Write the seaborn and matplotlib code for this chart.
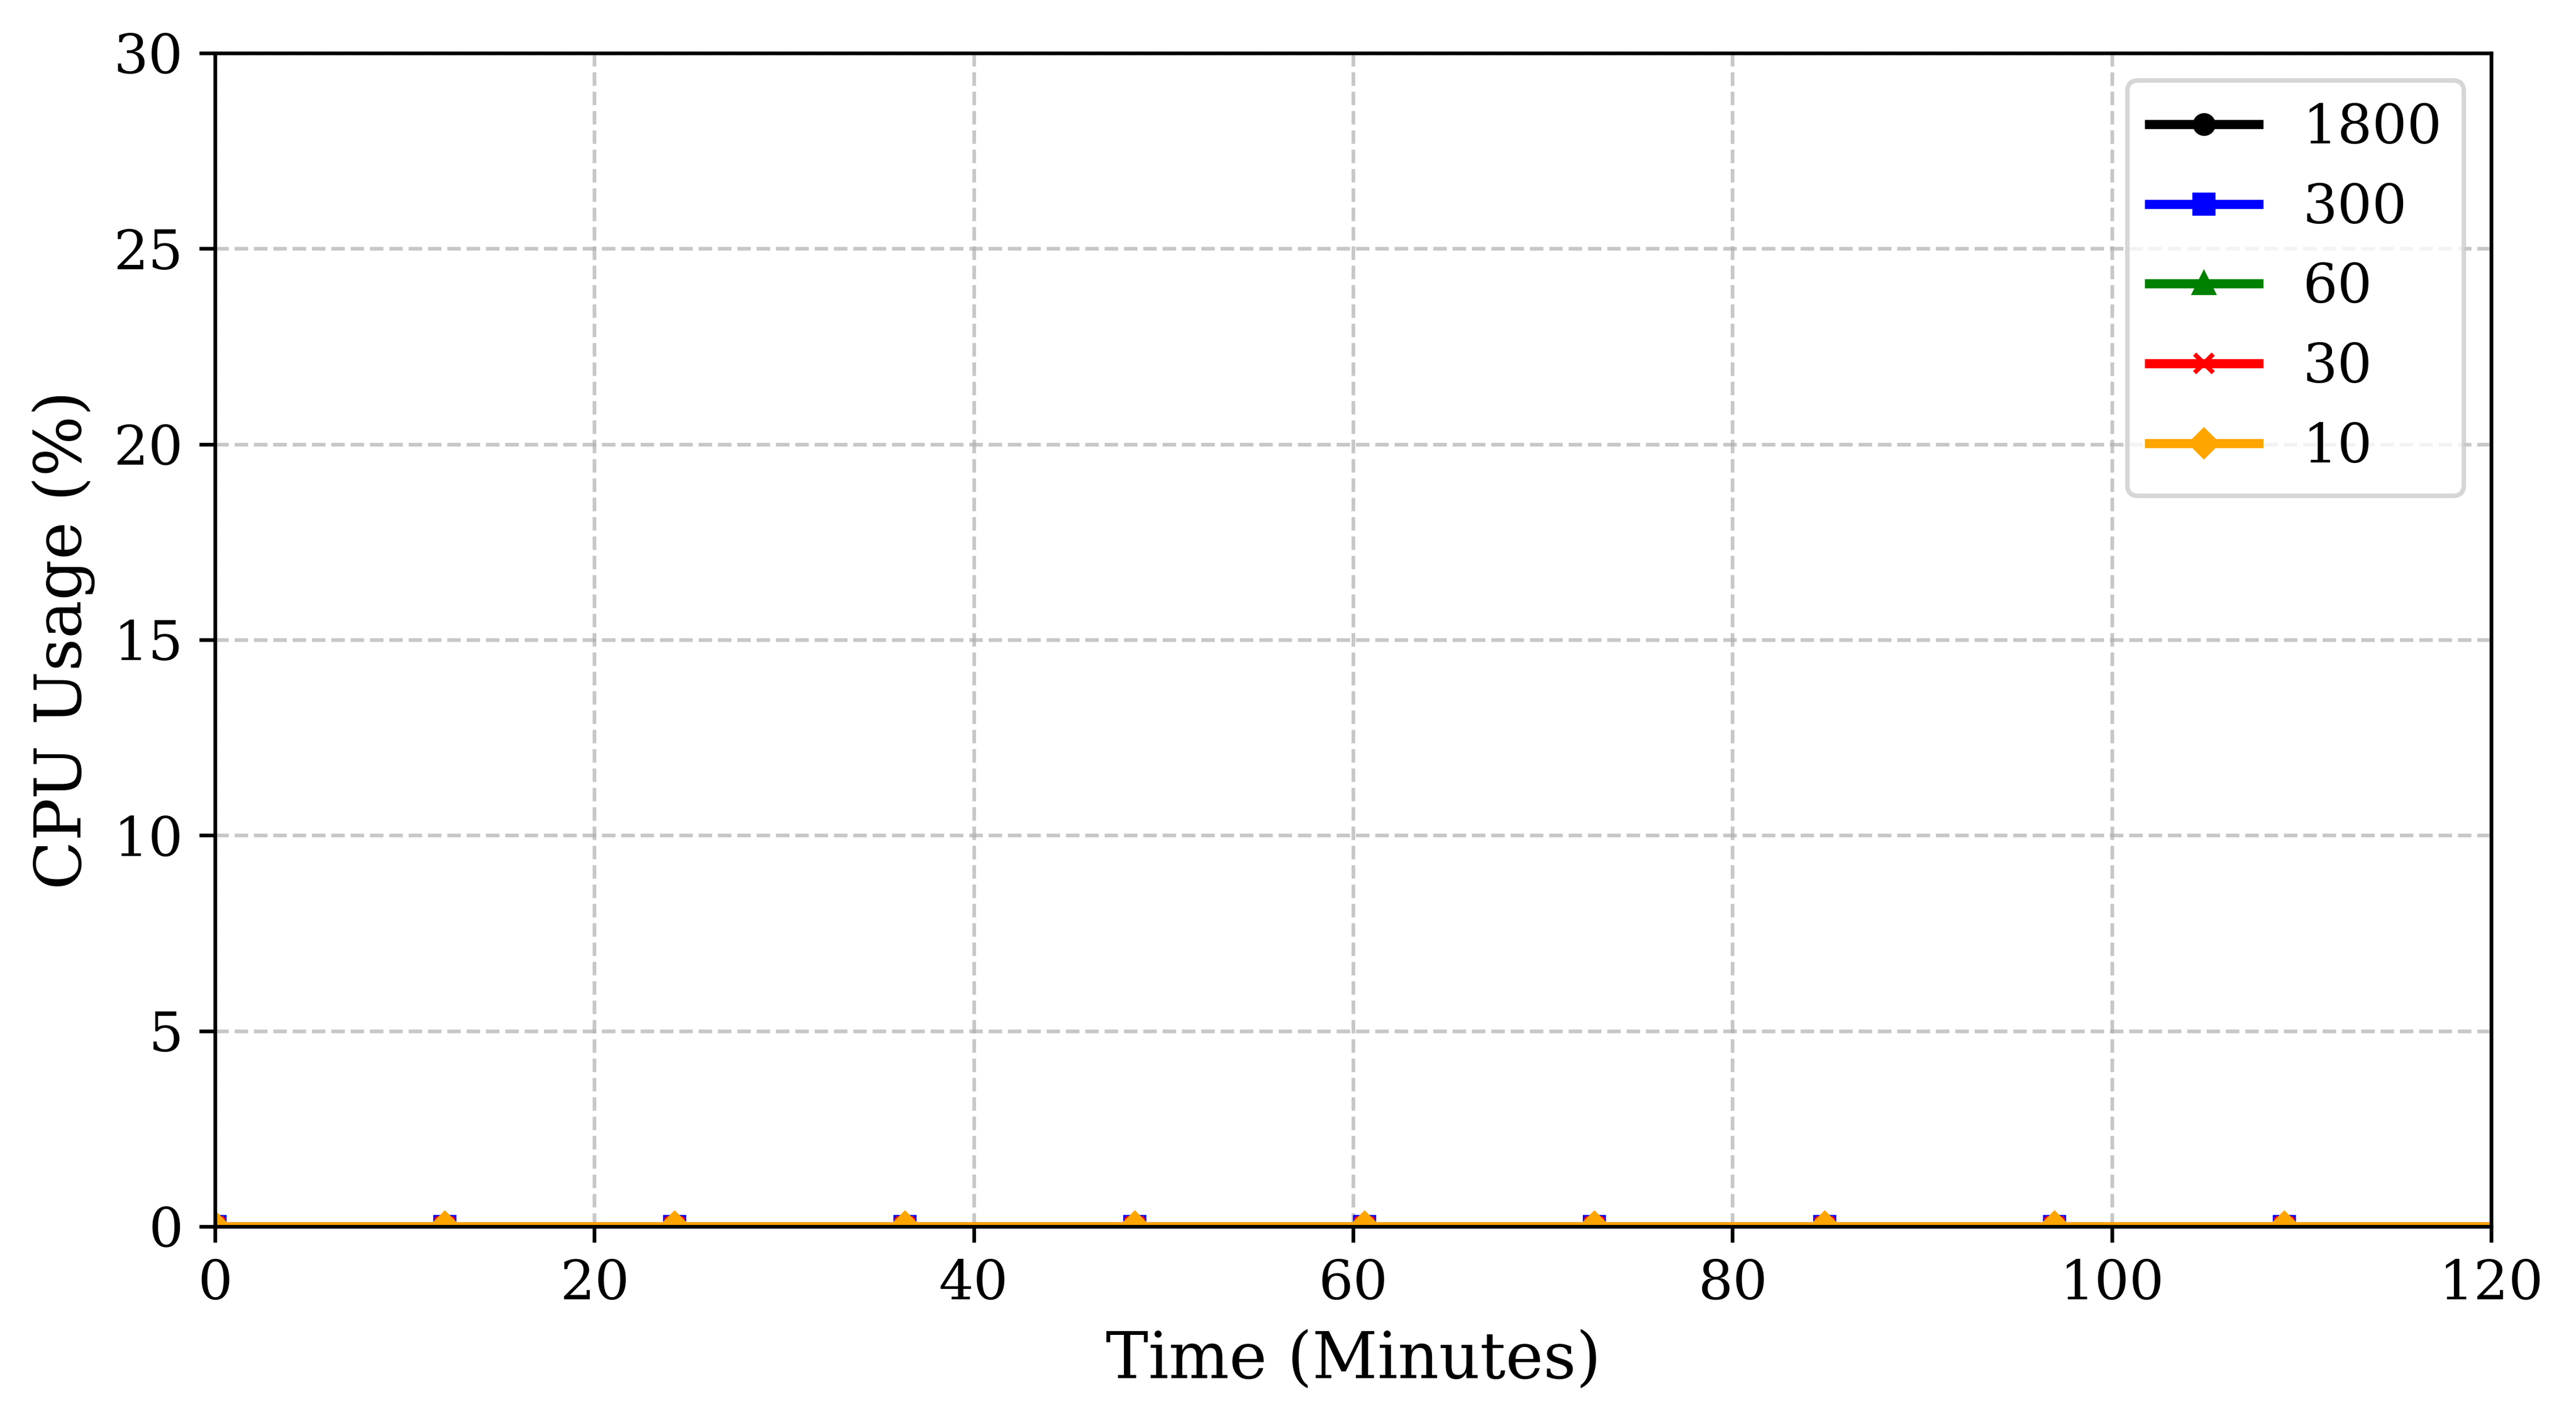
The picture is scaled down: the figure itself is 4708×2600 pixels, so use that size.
import matplotlib
matplotlib.use("Agg")
import matplotlib.pyplot as plt
import seaborn as sns
import pandas as pd

# sampling points of the run (minutes); markers sit on all but the last
time_minutes = [0, 12.12, 24.24, 36.36, 48.48, 60.61, 72.73, 84.85, 96.97, 109.09, 120]

interval_labels = ["1800", "300", "60", "30", "10"]

cpu_1800 = [0.0, 0.0, 0.0, 0.0, 0.0, 0.0, 0.0, 0.0, 0.0, 0.0, 0.0]
cpu_300 = [0.0, 0.0, 0.0, 0.0, 0.0, 0.0, 0.0, 0.0, 0.0, 0.0, 0.0]
cpu_60 = [0.0, 0.0, 0.0, 0.0, 0.0, 0.0, 0.0, 0.0, 0.0, 0.0, 0.0]
cpu_30 = [0.0, 0.0, 0.0, 0.0, 0.0, 0.0, 0.0, 0.0, 0.0, 0.0, 0.0]
cpu_10 = [0.0, 0.0, 0.0, 0.0, 0.0, 0.0, 0.0, 0.0, 0.0, 0.0, 0.0]

cpu_series = [cpu_1800, cpu_300, cpu_60, cpu_30, cpu_10]

colors = ["black", "blue", "green", "red", "orange"]
markers = ["o", "s", "^", "x", "D"]

plt.rcParams["font.family"] = "serif"
plt.rcParams["font.serif"] = ["DejaVu Serif"]

fig = plt.figure(figsize=(4708 / 600, 2600 / 600))
ax = fig.add_axes([0.0835, 0.1381, 0.9671 - 0.0835, 0.9627 - 0.1381])

for label, values, color, marker in zip(interval_labels, cpu_series, colors, markers):
    df = pd.DataFrame({"time": time_minutes, "cpu": values})
    sns.lineplot(data=df, x="time", y="cpu", ax=ax, label=label, color=color,
                 marker=marker, markersize=4, markeredgewidth=1,
                 markeredgecolor=color, linewidth=2, errorbar=None,
                 markevery=list(range(len(time_minutes) - 1)))

ax.set_xlim(0, 120)
ax.set_ylim(0, 30)
ax.set_xticks(range(0, 121, 20))
ax.set_yticks(range(0, 31, 5))
ax.tick_params(labelsize=12)
ax.set_xlabel("Time (Minutes)", fontsize=14)
ax.set_ylabel("CPU Usage (%)", fontsize=14)
ax.grid(True, linestyle="--", alpha=0.7)

leg = ax.legend(loc="upper right", fontsize=12)
for h in leg.legend_handles:
    h.set_markevery([1])

fig.savefig("out.png", dpi=600)
